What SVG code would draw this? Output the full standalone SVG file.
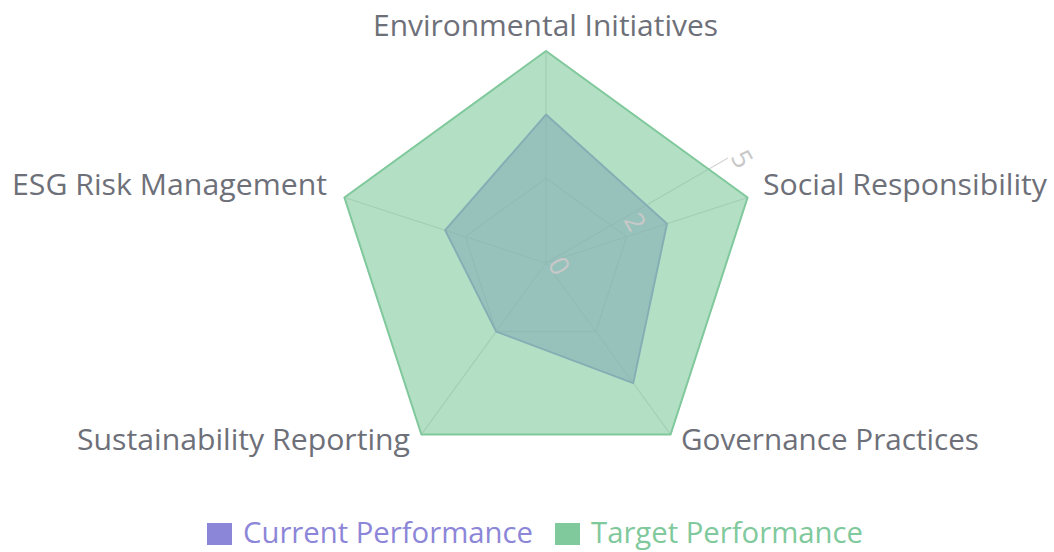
<svg xmlns="http://www.w3.org/2000/svg" width="1054" height="552" viewBox="0 0 1054 552">
<style>
.lbl{font-family:"Open Sans","Noto Sans",sans-serif;font-size:30px;fill:#6e7079}
.grid{fill:none;stroke:#d4d4d4;stroke-width:1.2}
.tick{font-family:"Open Sans","Noto Sans",sans-serif;font-size:27px;fill:#c8c8c8}
.leg{font-family:"Open Sans","Noto Sans",sans-serif;font-size:29px}
</style>
<rect width="1054" height="552" fill="#ffffff"/>
<g id="grid">
<polygon class="grid" points="546,178.2 626.7,236.8 595.8,331.6 496.2,331.6 465.3,236.8"/>
<polygon class="grid" points="546,51 747.6,197.5 670.6,434.5 421.4,434.5 344.4,197.5"/>
<line class="grid" x1="546" y1="263" x2="546" y2="51"/>
<line class="grid" x1="546" y1="263" x2="747.6" y2="197.5"/>
<line class="grid" x1="546" y1="263" x2="670.6" y2="434.5"/>
<line class="grid" x1="546" y1="263" x2="421.4" y2="434.5"/>
<line class="grid" x1="546" y1="263" x2="344.4" y2="197.5"/>
<line class="grid" x1="546" y1="263" x2="728" y2="158"/>
</g>
<g id="series-current">
<polygon points="546,114.6 667,223.7 633.2,383.1 496.2,331.6 445.2,230.2" fill="#8c86d8" fill-opacity="0.6" stroke="#8c86d8" stroke-width="2" stroke-linejoin="round"/>
</g>
<g id="series-target">
<polygon points="546,51 747.6,197.5 670.6,434.5 421.4,434.5 344.4,197.5" fill="#80c99c" fill-opacity="0.6" stroke="#80c99c" stroke-width="2" stroke-linejoin="round"/>
</g>
<g id="ticks">
<text class="tick" transform="translate(557,267) rotate(60)" text-anchor="middle" dominant-baseline="middle">0</text>
<text class="tick" transform="translate(633,223) rotate(60)" text-anchor="middle" dominant-baseline="middle">2</text>
<text class="tick" transform="translate(740,160) rotate(60)" text-anchor="middle" dominant-baseline="middle">5</text>
</g>
<g id="labels">
<text class="lbl" x="373" y="36" textLength="345" lengthAdjust="spacingAndGlyphs">Environmental Initiatives</text>
<text class="lbl" x="763" y="195" textLength="284" lengthAdjust="spacingAndGlyphs">Social Responsibility</text>
<text class="lbl" x="681" y="450" textLength="298" lengthAdjust="spacingAndGlyphs">Governance Practices</text>
<text class="lbl" x="77" y="450" textLength="333" lengthAdjust="spacingAndGlyphs">Sustainability Reporting</text>
<text class="lbl" x="12" y="195" textLength="315" lengthAdjust="spacingAndGlyphs">ESG Risk Management</text>
</g>
<g id="legend">
<rect x="207" y="523" width="25" height="22" fill="#8c86d8"/>
<text class="leg" x="243" y="543" fill="#8c86d8" textLength="290" lengthAdjust="spacingAndGlyphs">Current Performance</text>
<rect x="555" y="523" width="25" height="22" fill="#80c99c"/>
<text class="leg" x="591" y="543" fill="#80c99c" textLength="272" lengthAdjust="spacingAndGlyphs">Target Performance</text>
</g>
</svg>
